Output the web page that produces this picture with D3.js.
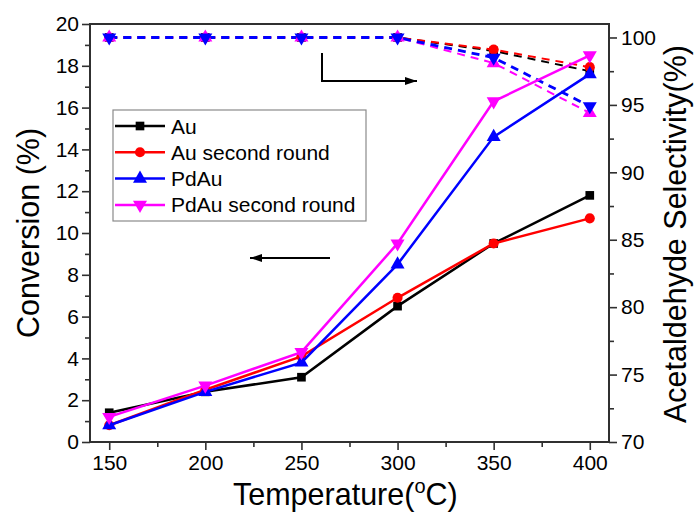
<!DOCTYPE html>
<html><head><meta charset="utf-8">
<script src="https://cdn.jsdelivr.net/npm/d3@7"></script>
<style>body{margin:0;background:#fff}svg{display:block}text{font-family:"Liberation Sans",Arial,sans-serif}</style>
</head><body>
<script>
const temps = [150, 200, 250, 300, 350, 400];
const convAu = [1.4, 2.4, 3.1, 6.5, 9.5, 11.8];
const convAu2 = [0.8, 2.5, 4.1, 6.9, 9.5, 10.7];
const convPdAu = [0.8, 2.4, 3.8, 8.5, 14.6, 17.6];
const convPdAu2 = [1.2, 2.7, 4.3, 9.5, 16.3, 18.5];
const selAu = [100, 100, 100, 100, 99.0, 97.5];
const selAu2 = [100, 100, 100, 100, 99.1, 97.8];
const selPdAu = [100, 100, 100, 100, 98.5, 94.9];
const selPdAu2 = [100, 100, 100, 100, 98.1, 94.4];
const seriesNames = ["Au", "Au second round", "PdAu", "PdAu second round"];
const xTicks = [150, 200, 250, 300, 350, 400];
const xMinor = [175, 225, 275, 325, 375];
const yLTicks = [0, 2, 4, 6, 8, 10, 12, 14, 16, 18, 20];
const yLMinor = [1, 3, 5, 7, 9, 11, 13, 15, 17, 19];
const yRTicks = [70, 75, 80, 85, 90, 95, 100];
const yRMinor = [72.5, 77.5, 82.5, 87.5, 92.5, 97.5];

const W = 694, H = 512;
const L = 90, R = 609, T = 24, B = 442;
const svg = d3.select("body").append("svg").attr("width", W).attr("height", H);
const x = d3.scaleLinear().domain([140, 410]).range([L, R]);
const yL = d3.scaleLinear().domain([0, 20]).range([B, T]);
const yR = d3.scaleLinear().domain([70, 101]).range([B, T]);

const axisColor = "#303030";
const tickFont = 21;
function styleAxis(g) {
  g.select(".domain").remove();
  g.selectAll(".tick line").attr("stroke", axisColor).attr("stroke-width", 1.6);
  g.selectAll(".tick text").attr("fill", "#000").style("font-size", tickFont + "px");
}
// minor ticks
svg.append("g").attr("transform", `translate(0,${B})`)
  .call(d3.axisBottom(x).tickValues(xMinor).tickSize(5).tickFormat(""))
  .call(styleAxis);
svg.append("g").attr("transform", `translate(${L},0)`)
  .call(d3.axisLeft(yL).tickValues(yLMinor).tickSize(5).tickFormat(""))
  .call(styleAxis);
svg.append("g").attr("transform", `translate(${R},0)`)
  .call(d3.axisRight(yR).tickValues(yRMinor).tickSize(5).tickFormat(""))
  .call(styleAxis);
// major ticks
svg.append("g").attr("transform", `translate(0,${B})`)
  .call(d3.axisBottom(x).tickValues(xTicks).tickSize(8).tickPadding(5).tickFormat(d3.format("d")))
  .call(styleAxis);
svg.append("g").attr("transform", `translate(${L},0)`)
  .call(d3.axisLeft(yL).tickValues(yLTicks).tickSize(8).tickPadding(3).tickFormat(d3.format("d")))
  .call(styleAxis);
svg.append("g").attr("transform", `translate(${R},0)`)
  .call(d3.axisRight(yR).tickValues(yRTicks).tickSize(8).tickPadding(4).tickFormat(d3.format("d")))
  .call(styleAxis);

// frame
svg.append("rect").attr("x", L).attr("y", T).attr("width", R - L).attr("height", B - T)
  .attr("fill", "none").attr("stroke", axisColor).attr("stroke-width", 2);

// axis titles
const xt = svg.append("text").attr("x", 233).attr("y", 505).attr("text-anchor", "start")
  .style("font-size", "30.5px");
xt.append("tspan").text("Temperature(");
xt.append("tspan").attr("dy", -12).style("font-size", "20px").text("o");
xt.append("tspan").attr("dy", 12).text("C)");
svg.append("text").attr("transform", `translate(39,${(T + B) / 2}) rotate(-90)`)
  .attr("text-anchor", "middle").style("font-size", "30.5px").text("Conversion (%)");
svg.append("text").attr("transform", `translate(686,234) rotate(-90)`)
  .attr("text-anchor", "middle").style("font-size", "30.5px").text("Acetaldehyde Selectivity(%)");

const colors = ["#000000", "#ff0000", "#0000ff", "#ff00ff"];
const convData = [convAu, convAu2, convPdAu, convPdAu2];
const selData = [selAu, selAu2, selPdAu, selPdAu2];
const convSym = [d3.symbolSquare, d3.symbolCircle, d3.symbolTriangle, "down"];
const selSym = [d3.symbolSquare, d3.symbolCircle, "down", d3.symbolTriangle];
const symSize = [75, 80, 85, 85];

function marker(g, sym, size, color, cx, cy) {
  const down = sym === "down";
  const type = down ? d3.symbolTriangle : sym;
  g.append("path").attr("d", d3.symbol().type(type).size(size)())
    .attr("transform", `translate(${cx},${cy}) rotate(${down ? 180 : 0})`)
    .attr("fill", color);
}

// selectivity (dashed)
const selOrder = [0, 1, 3, 2];
const selWidth = [2, 2, 2.8, 2];
selOrder.forEach(i => {
  const pts = temps.map((t, j) => [x(t), yR(selData[i][j])]);
  svg.append("path").attr("d", d3.line()(pts)).attr("fill", "none")
    .attr("stroke", colors[i]).attr("stroke-width", selWidth[i]).attr("stroke-dasharray", "8,6");
});
selOrder.forEach(i => {
  const g = svg.append("g");
  temps.forEach((t, j) => marker(g, selSym[i], symSize[i], colors[i], x(t), yR(selData[i][j])));
});

// conversion (solid)
[0, 1, 2, 3].forEach(i => {
  const pts = temps.map((t, j) => [x(t), yL(convData[i][j])]);
  svg.append("path").attr("d", d3.line()(pts)).attr("fill", "none")
    .attr("stroke", colors[i]).attr("stroke-width", 2.5);
  const g = svg.append("g");
  temps.forEach((t, j) => marker(g, convSym[i], symSize[i], colors[i], x(t), yL(convData[i][j])));
});

// legend
const lg = svg.append("g");
lg.append("rect").attr("x", 113).attr("y", 110).attr("width", 253).attr("height", 111)
  .attr("fill", "#fff").attr("stroke", "#8a8a8a").attr("stroke-width", 1.2);
seriesNames.forEach((name, i) => {
  const cy = 126 + i * 26.3;
  lg.append("line").attr("x1", 115).attr("x2", 165).attr("y1", cy).attr("y2", cy)
    .attr("stroke", colors[i]).attr("stroke-width", 2.5);
  marker(lg, convSym[i], symSize[i], colors[i], 140, cy);
  lg.append("text").attr("x", 171).attr("y", cy + 7.5).style("font-size", "21px").text(name);
});

// arrows
svg.append("defs").append("marker").attr("id", "ah").attr("viewBox", "0 0 12 8")
  .attr("refX", 12).attr("refY", 4).attr("markerWidth", 12).attr("markerHeight", 8)
  .attr("markerUnits", "userSpaceOnUse").attr("orient", "auto")
  .append("path").attr("d", "M0,0L12,4L0,8Z").attr("fill", "#000");
svg.append("path").attr("d", "M322,53L322,81L417,81").attr("fill", "none")
  .attr("stroke", "#000").attr("stroke-width", 2).attr("marker-end", "url(#ah)");
svg.append("path").attr("d", "M330,258L250,258").attr("fill", "none")
  .attr("stroke", "#000").attr("stroke-width", 2).attr("marker-end", "url(#ah)");
</script>
</body></html>
